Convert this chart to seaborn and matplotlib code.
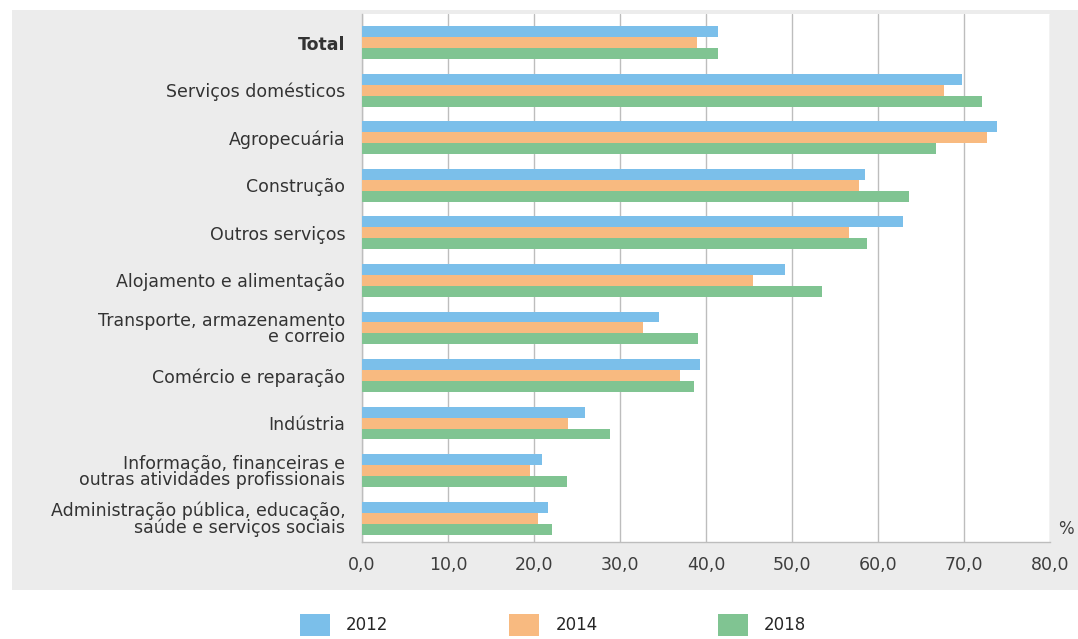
import matplotlib
matplotlib.use("Agg")
import matplotlib.pyplot as plt
import matplotlib.patches as mpatches
import seaborn as sns
import pandas as pd

categories = [
    "Total",
    "Serviços domésticos",
    "Agropecuária",
    "Construção",
    "Outros serviços",
    "Alojamento e alimentação",
    "Transporte, armazenamento\ne correio",
    "Comércio e reparação",
    "Indústria",
    "Informação, financeiras e\noutras atividades profissionais",
    "Administração pública, educação,\nsaúde e serviços sociais",
]
years = ["2012", "2014", "2018"]
v2012 = [41.4, 69.8, 73.8, 58.5, 62.9, 49.2, 34.5, 39.3, 25.9, 20.9, 21.6]
v2014 = [38.9, 67.7, 72.7, 57.8, 56.6, 45.5, 32.7, 37.0, 24.0, 19.5, 20.5]
v2018 = [41.4, 72.1, 66.7, 63.6, 58.7, 53.5, 39.1, 38.6, 28.8, 23.8, 22.1]
xticks = [0, 10, 20, 30, 40, 50, 60, 70, 80]
xtick_labels = ["0,0", "10,0", "20,0", "30,0", "40,0", "50,0", "60,0", "70,0", "80,0"]
colors = ["#7bbfea", "#f8ba80", "#80c492"]

rows = []
for yr, vals in zip(years, [v2012, v2014, v2018]):
    for c, v in zip(categories, vals):
        rows.append({"cat": c, "year": yr, "val": v})
df = pd.DataFrame(rows)

sns.set_theme(style="white")
plt.rcParams["font.family"] = ["DejaVu Sans"]

fig = plt.figure(figsize=(10.78, 6.39), dpi=100)
fig.patch.set_facecolor("white")
# gray panel
panel = mpatches.Rectangle((12 / 1078, 1 - 590 / 639), 1 - 12 / 1078, (590 - 10) / 639,
                           transform=fig.transFigure, facecolor="#ececec",
                           edgecolor="none", zorder=-10)
fig.patches.append(panel)

ax = fig.add_axes([362 / 1078, 1 - 542 / 639, (1050 - 362) / 1078, (542 - 14) / 639])
ax.set_facecolor("white")

sns.barplot(data=df, y="cat", x="val", hue="year", order=categories,
            hue_order=years, palette=colors, orient="h", width=0.69,
            linewidth=0, saturation=1, ax=ax, legend=False, zorder=3)

ax.set_xlim(0, 80)
ax.set_ylim(10.5, -0.6)
ax.set_xticks(xticks)
ax.set_xticklabels(xtick_labels, fontsize=12.5, color="#3d3d3d")
ax.set_xlabel("")
ax.set_ylabel("")
ax.tick_params(axis="x", length=0, pad=10)
ax.tick_params(axis="y", length=0, pad=12)
for lbl in ax.get_yticklabels():
    lbl.set_fontsize(12.5)
    lbl.set_color("#333333")
    lbl.set_linespacing(0.88)
    if lbl.get_text() == "Total":
        lbl.set_fontweight("bold")
ax.grid(axis="x", color="#bdbdbd", linewidth=1, zorder=0)
ax.grid(axis="y", visible=False)
for s in ["top", "right"]:
    ax.spines[s].set_visible(False)
for s in ["left", "bottom"]:
    ax.spines[s].set_color("#bdbdbd")
    ax.spines[s].set_linewidth(1)

fig.text(1066 / 1078, 1 - 529 / 639, "%", fontsize=12, color="#3d3d3d",
         ha="center", va="center")

handles = [mpatches.Patch(facecolor=c, edgecolor="none", label=y) for c, y in zip(colors, years)]
fig.legend(handles=handles, loc="center", bbox_to_anchor=(553 / 1078, 1 - 625 / 639),
           ncol=3, frameon=False, fontsize=12, handlelength=1.8, handleheight=1.6,
           columnspacing=7.2, handletextpad=1.0, borderpad=0, borderaxespad=0)

fig.savefig("out.png", dpi=100, facecolor="white")
